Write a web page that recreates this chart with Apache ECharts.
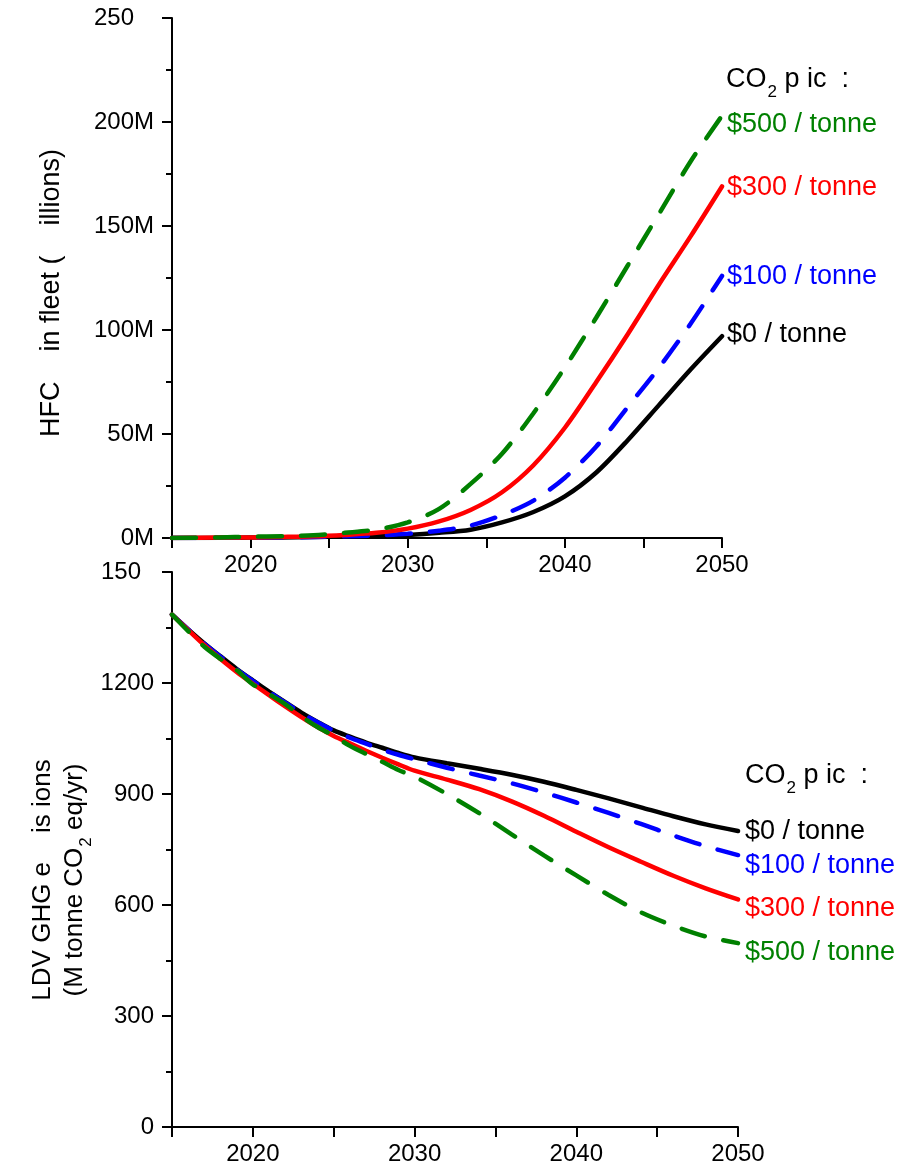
<!DOCTYPE html>
<html><head><meta charset="utf-8">
<script src="https://cdn.jsdelivr.net/npm/echarts@6/dist/echarts.min.js"></script>
<style>html,body{margin:0;padding:0;background:#fff}#c{width:920px;height:1168px}</style>
</head><body><div id="c"></div>
<script>
// Top panel: HFC vehicles in fleet (millions)
const hfcYears = [2015,2018,2020,2022,2024,2026,2028,2030,2032,2034,2036,2038,2040,2042,2044,2046,2048,2050];
const hfc0   = [0,0.1,0.2,0.3,0.5,0.7,1,1.5,2.5,4,7.5,12.5,20,31.5,47,64,81,97];
const hfc100 = [0,0.1,0.2,0.3,0.5,0.8,1.2,2,3.5,6,11,18,29,44,63,82,103,126];
const hfc300 = [0,0.2,0.3,0.5,0.8,1.5,2.5,4.5,8,13.5,22,35,53,75,98,122,145,169];
const hfc500 = [0,0.3,0.6,0.9,1.3,2.5,4,7.5,14,26,40.5,60,82,106,131,156,181,203];

// Bottom panel: LDV GHG emissions (M tonne CO2 eq/yr)
const ghgYears = [2015,2016,2017,2018,2019,2020,2021,2022,2023,2024,2025,2026,2027,2028,2029,2030,2032,2034,2036,2038,2040,2042,2044,2046,2048,2050];
const ghg0   = [1385,1345,1307,1272,1238,1207,1177,1148,1120,1095,1072,1055,1039,1025,1011,999,983,968,952,933,911,888,864,840,818,800];
const ghg100 = [1385,1345,1306,1271,1237,1206,1176,1147,1119,1094,1071,1052,1036,1020,1006,994,971,950,929,904,877,849,819,788,759,735];
const ghg300 = [1385,1343,1302,1265,1230,1198,1167,1137,1108,1081,1057,1037,1017,998,980,963,939,913,880,841,798,756,717,679,645,615];
const ghg500 = [1385,1340,1298,1265,1235,1196,1170,1143,1110,1081,1057,1030,1008,987,965,947,900,848,791,734,680,627,580,544,515,497];

const hfcTicks = ['0M','50M','100M','150M','200M','250'];
const ghgTicks = ['0','300','600','900','1200','150'];
const legendLabels = ['$0 / tonne','$100 / tonne','$300 / tonne','$500 / tonne'];
const colors = ['#000000','#0000ff','#ff0000','#008000'];

const FONT = '"Liberation Sans", Arial, sans-serif';
const FS = 24;   // tick labels
const LFS = 27;  // legend labels & titles

function pairs(xs, ys){ return xs.map((x,i)=>[x, ys[i]]); }

function xAxis(gi){
  return {
    type:'value', gridIndex:gi, min:2015, max:2050, interval:5,
    axisLine:{show:true, onZero:false, lineStyle:{color:'#000', width:2}},
    axisTick:{show:true, length:10, lineStyle:{color:'#000', width:2}},
    splitLine:{show:false},
    axisLabel:{fontFamily:FONT, fontSize:FS, color:'#000', margin:15,
      formatter:v => (v % 10 === 0 ? String(v) : '')}
  };
}
function yAxis(gi, max, interval, ticks, clipPad){
  return {
    type:'value', gridIndex:gi, min:0, max:max, interval:interval,
    axisLine:{show:true, lineStyle:{color:'#000', width:2}},
    axisTick:{show:true, length:10, lineStyle:{color:'#000', width:2}},
    minorTick:{show:true, splitNumber:2, length:6, lineStyle:{color:'#000', width:2}},
    splitLine:{show:false},
    axisLabel:{fontFamily:FONT, fontSize:FS, color:'#000', margin:18,
      formatter:v => {
        const i = Math.round(v/interval);
        return i === ticks.length-1 ? '{c|'+ticks[i]+'}' : ticks[i];
      },
      rich:{c:{fontFamily:FONT, fontSize:FS, color:'#000', padding:[0,clipPad,0,0]}}}
  };
}

const dash = [24,19];
function mk(name, gi, data, ci, dashed){
  return {
    name, type:'line', xAxisIndex:gi, yAxisIndex:gi, data, smooth:0.3, symbol:'none',
    lineStyle:{color:colors[ci], width:4.5, type: dashed ? dash : 'solid', cap:'round'},
    z: 2+ci
  };
}

function label(x, y, text, color){
  return {type:'text', x:x, y:y, style:{text, fill:color, font:`${LFS}px ${FONT}`, textVerticalAlign:'middle'}};
}
function co2Label(x, y){
  return {type:'text', x:x, y:y-16, style:{
    text:'{n|CO}{s|2}{n| p ic  :}',
    rich:{n:{fontSize:LFS, fontFamily:FONT, fill:'#000', lineHeight:32, verticalAlign:'bottom'},
          s:{fontSize:17, fontFamily:FONT, fill:'#000', lineHeight:32, verticalAlign:'bottom', padding:[0,0,-8,1]}}
  }};
}

const chart = echarts.init(document.getElementById('c'), null, {renderer:'canvas'});
chart.setOption({
  animation:false,
  backgroundColor:'#fff',
  grid:[
    {left:172, right:198, top:18, height:520},
    {left:172, right:182, top:572, height:555}
  ],
  xAxis:[xAxis(0), xAxis(1)],
  yAxis:[yAxis(0,250,50,hfcTicks,20), yAxis(1,1500,300,ghgTicks,13)],
  series:[
    mk('$0', 0, pairs(hfcYears,hfc0), 0, false),
    mk('$100', 0, pairs(hfcYears,hfc100), 1, true),
    mk('$300', 0, pairs(hfcYears,hfc300), 2, false),
    mk('$500', 0, pairs(hfcYears,hfc500), 3, true),
    mk('$0', 1, pairs(ghgYears,ghg0), 0, false),
    mk('$100', 1, pairs(ghgYears,ghg100), 1, true),
    mk('$300', 1, pairs(ghgYears,ghg300), 2, false),
    mk('$500', 1, pairs(ghgYears,ghg500), 3, true)
  ],
  graphic:[
    {type:'text', x:52, y:293, rotation:Math.PI/2, style:{text:'HFC    in fleet (    illions)', fill:'#000', font:`${LFS}px ${FONT}`, textAlign:'center', textVerticalAlign:'middle'}},
    {type:'text', x:43, y:880, rotation:Math.PI/2, style:{text:'LDV GHG e    is ions', fill:'#000', font:`26px ${FONT}`, textAlign:'center', textVerticalAlign:'middle'}},
    {type:'text', x:73, y:880, rotation:Math.PI/2, style:{
      text:'{n|(M tonne CO}{s|2}{n| eq/yr)}', textAlign:'center', textVerticalAlign:'middle',
      rich:{n:{fontSize:26, fontFamily:FONT, fill:'#000', lineHeight:30, verticalAlign:'bottom'},
            s:{fontSize:17, fontFamily:FONT, fill:'#000', lineHeight:30, verticalAlign:'bottom', padding:[0,0,-7,1]}}}},
    co2Label(726, 77),
    label(727, 125, legendLabels[3], colors[3]),
    label(727, 188, legendLabels[2], colors[2]),
    label(727, 277, legendLabels[1], colors[1]),
    label(727, 335, legendLabels[0], colors[0]),
    co2Label(745, 773),
    label(745, 832, legendLabels[0], colors[0]),
    label(745, 866, legendLabels[1], colors[1]),
    label(745, 909, legendLabels[2], colors[2]),
    label(745, 953, legendLabels[3], colors[3])
  ]
});
</script></body></html>
